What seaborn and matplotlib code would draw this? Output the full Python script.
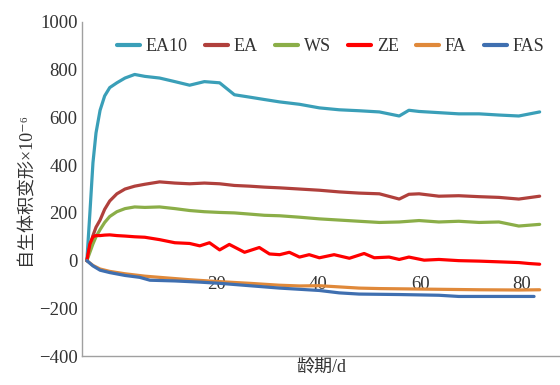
import numpy as np
import pandas as pd
import matplotlib
matplotlib.use("Agg")
import matplotlib.pyplot as plt
import seaborn as sns

# values (age in days, strain x1e-6)
ea10_day = [-5.5, -4.9, -4.3, -3.7, -2.9, -2.0, -1.0, 0.4, 2.0, 3.9, 5.9, 8.8, 11.8, 14.7,
            17.6, 20.6, 23.5, 26.5, 29.4, 32.4, 36.3, 40.2, 44.1, 48.0, 52.0, 55.9, 57.8,
            59.8, 63.7, 67.6, 71.6, 75.5, 79.4, 83.5]
ea10_val = [0, 200, 410, 535, 630, 690, 725, 745, 765, 780, 772, 765, 750, 735,
            750, 745, 695, 685, 675, 665, 655, 640, 632, 628, 623, 606, 630,
            625, 620, 615, 615, 610, 606, 623]

ea_day = [-5.5, -4.9, -4.3, -3.7, -2.9, -2.0, -1.0, 0.4, 2.0, 3.9, 5.9, 8.8, 11.8, 14.7,
          17.6, 20.6, 23.5, 26.5, 29.4, 32.4, 36.3, 40.2, 44.1, 48.0, 52.0, 55.9, 57.8,
          59.8, 63.7, 67.6, 71.6, 75.5, 79.4, 83.5]
ea_val = [0, 60, 105, 140, 170, 215, 250, 280, 300, 312, 320, 330, 325, 322,
          325, 322, 315, 312, 308, 305, 300, 295, 288, 283, 280, 258, 278,
          280, 270, 272, 268, 265, 258, 270]

ws_day = [-5.5, -4.9, -4.3, -3.7, -2.9, -2.0, -1.0, 0.4, 2.0, 3.9, 5.9, 8.8, 11.8, 14.7,
          17.6, 20.6, 23.5, 26.5, 29.4, 32.4, 36.3, 40.2, 44.1, 48.0, 52.0, 55.9,
          59.8, 63.7, 67.6, 71.6, 75.5, 79.4, 83.5]
ws_val = [0, 35, 70, 100, 130, 160, 185, 205, 218, 225, 223, 225, 218, 210,
          205, 202, 200, 195, 190, 188, 182, 175, 170, 165, 160, 162,
          168, 162, 165, 160, 162, 145, 152]

ze_day = [-5.5, -4.9, -4.3, -3.7, -2.9, -2.0, -1.0, 0.4, 2.0, 3.9, 5.9, 8.8, 11.8, 14.7,
          16.7, 18.6, 20.6, 22.5, 25.5, 28.4, 30.4, 32.4, 34.3, 36.3, 38.2, 40.2, 43.1,
          46.1, 49.0, 51.0, 53.9, 55.9, 57.8, 60.8, 63.7, 67.6, 71.6, 75.5, 79.4, 81.4, 83.5]
ze_val = [0, 70, 100, 105, 105, 107, 108, 105, 103, 100, 98, 88, 75, 72,
          62, 75, 45, 68, 35, 55, 28, 25, 35, 15, 25, 12, 25,
          10, 30, 12, 15, 5, 15, 2, 5, 0, -2, -5, -8, -12, -15]

fa_day = [-5.5, -4.3, -2.9, -1.0, 2.0, 5.9, 8.8, 14.7, 20.6, 26.5, 32.4, 36.3, 40.2,
          44.1, 48.0, 52.0, 55.9, 63.7, 71.6, 79.4, 83.5]
fa_val = [0, -20, -35, -45, -55, -65, -70, -80, -88, -95, -103, -106, -105,
          -110, -115, -117, -118, -120, -122, -123, -122]

fas_day = [-5.5, -4.3, -2.9, -1.0, 2.0, 4.9, 6.9, 11.8, 16.7, 20.6, 26.5, 32.4, 36.3,
           40.2, 44.1, 48.0, 55.9, 63.7, 67.6, 75.5, 82.4]
fas_val = [0, -22, -40, -50, -62, -70, -82, -85, -90, -95, -105, -115, -120,
           -125, -135, -140, -142, -145, -150, -150, -150]

series = ["EA10", "EA", "WS", "ZE", "FA", "FAS"]
colors = ["#3a9fb8", "#b0403c", "#8bae48", "#ff0000", "#e0893a", "#3f6fb0"]
x_ticks = [20, 40, 60, 80]
y_ticks = [-400, -200, 0, 200, 400, 600, 800, 1000]

parts = []
for name, d, v in [("EA10", ea10_day, ea10_val), ("EA", ea_day, ea_val), ("WS", ws_day, ws_val),
                   ("ZE", ze_day, ze_val), ("FA", fa_day, fa_val), ("FAS", fas_day, fas_val)]:
    parts.append(pd.DataFrame({"day": d, "val": v, "series": name}))
df = pd.concat(parts, ignore_index=True)

sns.set_theme(style="white")
plt.rcParams["font.family"] = ["Liberation Serif", "Noto Sans CJK SC", "DejaVu Sans"]

fig = plt.figure(figsize=(5.6, 3.85), dpi=100)
ax = fig.add_axes([0.146, 0.075, 0.854, 0.868])

sns.lineplot(data=df, x="day", y="val", hue="series", hue_order=series,
             palette=colors, linewidth=2.3, sort=False, estimator=None, ax=ax)

ax.set_xlim(-6.5, 87.5)
ax.set_ylim(-400, 1000)
ax.set_yticks(y_ticks)
ax.set_xticks([])
ax.tick_params(axis="y", length=0, labelsize=13.5, colors="#333333", pad=3)

for s in ["top", "right"]:
    ax.spines[s].set_visible(False)
for s in ["left", "bottom"]:
    ax.spines[s].set_color("#a0a0a0")
    ax.spines[s].set_linewidth(1.0)

# x tick labels sit on the zero line
sec = ax.secondary_xaxis(400 / 1400)
sec.set_xticks(x_ticks)
sec.spines["bottom"].set_visible(False)
sec.tick_params(length=0, labelsize=13.5, colors="#333333", pad=11)

ax.set_xlabel("龄期/d", fontsize=13, color="#333333", labelpad=2)
ax.set_ylabel("自生体积变形×10⁻⁶", fontsize=13, color="#333333", labelpad=4)

leg = ax.legend(loc="upper center", bbox_to_anchor=(0.52, 1.0), ncol=6, frameon=False,
                fontsize=13, handlelength=1.3, handletextpad=0.3, columnspacing=0.95)
for line in leg.get_lines():
    line.set_linewidth(3)
for t in leg.get_texts():
    t.set_color("#333333")

fig.savefig("out.png", dpi=100)
